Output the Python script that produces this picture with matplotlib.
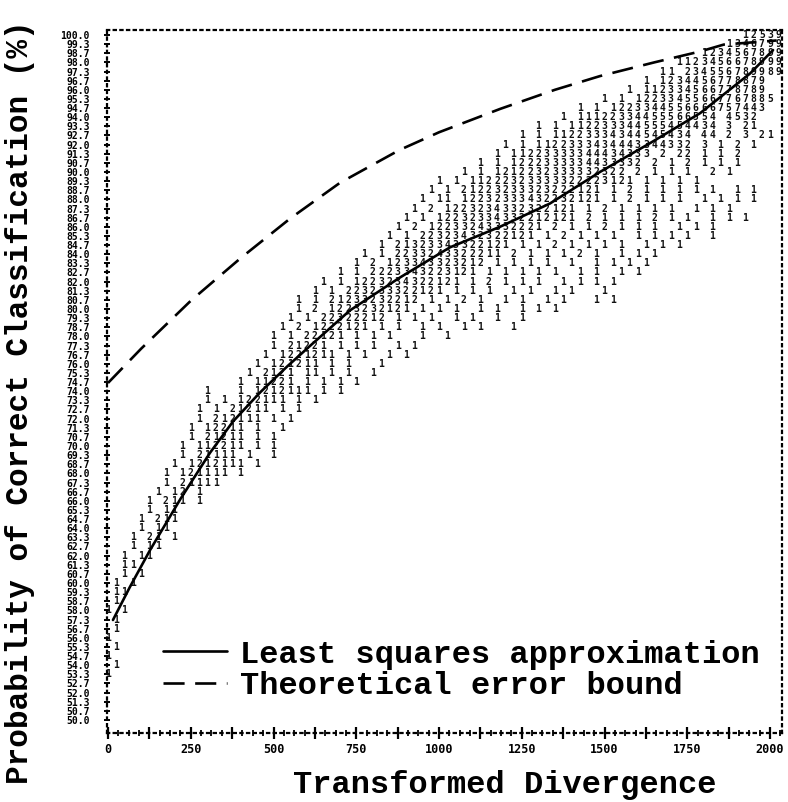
import matplotlib
matplotlib.use("Agg")
import matplotlib.pyplot as plt
from matplotlib.ticker import FixedLocator, FixedFormatter

# ---------------- data ----------------
# least squares approximation
ls_td = [15, 66, 127, 218, 308, 378, 459, 541, 610, 731, 882, 1033, 1184, 1335, 1486, 1637, 1789, 1940, 2009]
ls_pc = [57.3, 59.7, 62.4, 66.1, 69.5, 71.8, 73.9, 75.8, 77.3, 79.9, 82.3, 84.5, 86.0, 87.7, 90.0, 92.1, 94.3, 97.2, 98.9]

# theoretical error bound
tb_td = [0, 100, 250, 400, 550, 700, 880, 1000, 1184, 1350, 1486, 1650, 1789, 1860, 2020]
tb_pc = [74.6, 77.1, 80.6, 83.7, 86.6, 89.2, 91.6, 92.9, 94.6, 96.0, 97.0, 98.0, 98.8, 99.3, 99.6]

# line-printer grid: column step (TD units) and row step (% units)
col_step = 25.0
row_step = 2.0 / 3.0
top_pc = 100.0
n_rows = 76

# printer plot counts: (row, first column, characters)
cloud_rows = [
    (0, 77, "12539"),
    (1, 75, "1346799"),
    (2, 72, "1234567899"),
    (3, 69, "1123456678999"),
    (4, 67, "11 234556789989"),
    (5, 65, "1 1234456778879"),
    (6, 63, "1 112334566778789"),
    (7, 60, "1 1 12233455667767885"),
    (8, 57, "1 1 1223344556666757443"),
    (9, 55, "1 11122334455566554 4532"),
    (10, 52, "1 1 112233344555454434 3 21"),
    (11, 50, "1 1 11223334344545434 44 2 3 21"),
    (12, 48, "1 1 1122333434443344332 3 1 2 1"),
    (13, 47, "1 11223333344434333 2 22 1 1 2"),
    (14, 45, "1 1 1222333334433332 2 1 2 1 1 1"),
    (15, 43, "1 1 1212232333332322 2 1 1 1  2 1"),
    (16, 40, "1 1 11222323333322223121 1 1 1 1"),
    (17, 39, "1 1 21223233323222121 1 2 1 1 1 1 1  1 1"),
    (18, 38, "1 11 12232333432232121 1 2 1 1 1  1 1 1 1"),
    (19, 37, "1 2 1223234332322121 1 2 1 1 1 1  1 1 1"),
    (20, 36, "1 1 12232334332212121 2 1 1 1 2 1 1  1 1 1"),
    (21, 35, "1 2 12233243332221 2 1 1 2 1 1 1  1 1 1"),
    (22, 34, "1 1 22323432322121 1 2 1 1 1  1 1 1 1  1"),
    (23, 33, "1 21323343322121 1 1 2 1 1 1 1  1 1 1"),
    (24, 31, "1 1 2233243322211 2 1 1 1 2 1  1 1 1"),
    (25, 30, "1 2 123343323212 1 1 1 1  1  1 1 1 1"),
    (26, 28, "1 1 2223343223121 1 1 1 1 1  1 1  1 1"),
    (27, 26, "1 1 1223234322121 1 2 1 1 1  1 1 1 1"),
    (28, 25, "1 1 223233322121 1 1 1  1 1  1 1   1"),
    (29, 23, "1 1 21233232212 1 1 2 1  1 1  1 1   1 1"),
    (30, 23, "1 2 1223232121 1 1 1  1 1  1 1 1"),
    (31, 22, "1 1 22322212 1 1 1  1 1  1  1"),
    (32, 21, "1 2 1222121 1 1  1 1  1 1   1"),
    (33, 20, "1 1 22121 1 1 1   1  1"),
    (34, 20, "1 21221 1 1 1  1 1"),
    (35, 19, "1 1221211 1 1  1 1"),
    (36, 18, "1 121211 1 1   1"),
    (37, 17, "1 2121 11 1 1  1"),
    (38, 16, "1 11221 1 1 1 1"),
    (39, 12, "1   1 1212111 1 1"),
    (40, 12, "1 1 122111 1 1"),
    (41, 11, "1 1 21211 1 1"),
    (42, 11, "1 212111 1 1"),
    (43, 10, "1 12211 1  1"),
    (44, 10, "1 21211 1 1"),
    (45, 9, "1 112211 1 1"),
    (46, 9, "1 21111 1  1"),
    (47, 8, "1 1212111 1"),
    (48, 7, "1 121111 1"),
    (49, 7, "1 21111"),
    (50, 6, "1 12 1"),
    (51, 5, "1 211 1"),
    (52, 5, "1 11"),
    (53, 4, "1 211"),
    (54, 4, "1 11"),
    (55, 3, "1 21 1"),
    (56, 3, "1 11"),
    (57, 2, "1 11"),
    (58, 2, "11"),
    (59, 2, "1 1"),
    (60, 1, "1 1"),
    (61, 1, "11"),
    (62, 1, "1"),
    (63, 0, "1 1"),
    (64, 1, "1"),
    (65, 1, "1"),
    (66, 0, "1"),
    (67, 1, "1"),
    (68, 0, "1"),
    (69, 1, "1"),
    (70, 0, "1"),
]
max_col = 81

x_major = [0, 125, 250, 375, 500, 625, 750, 875, 1000, 1125, 1250, 1375,
           1500, 1625, 1750, 1875, 2000]
x_major_labels = ["0", "", "250", "", "500", "", "750", "", "1000", "", "1250", "",
                  "1500", "", "1750", "", "2000"]

legend_labels = ["Least squares approximation", "Theoretical error bound"]
xlabel = "Transformed Divergence"
ylabel = "Probability of Correct Classification (%)"

# ---------------- figure ----------------
W, H = 788, 802
fig = plt.figure(figsize=(W / 100, H / 100), dpi=100)
ax = fig.add_axes([107 / W, 1 - 733 / H, (782 - 107) / W, (733 - 30) / H])
ax.set_xlim(-3, 2036)
ax.set_ylim(100 - (733 - 35) / 13.7, 100 + 5 / 13.7)

mono = "DejaVu Sans Mono"
for r, c0, s in cloud_rows:
    pc = top_pc - r * row_step
    for i, ch in enumerate(s):
        c = c0 + i
        if ch == " " or c > max_col:
            continue
        ax.text(c * col_step, pc, ch, ha="center", va="center", fontsize=7,
                family=mono, weight="bold", color="#111111")

ax.plot(ls_td, ls_pc, color="black", lw=1.9, solid_capstyle="round",
        label=legend_labels[0], zorder=5)
ax.plot(tb_td, tb_pc, color="black", lw=1.9, linestyle=(0, (8, 4)),
        label=legend_labels[1], zorder=5)

# frame in printer style
for side in ["top", "bottom", "left", "right"]:
    ax.spines[side].set_linestyle((0, (1, 2)))
    ax.spines[side].set_linewidth(1.6)

row_vals = [top_pc - r * row_step for r in range(n_rows)]
ax.yaxis.set_major_locator(FixedLocator(row_vals))
ax.yaxis.set_major_formatter(FixedFormatter(["%.1f" % v for v in row_vals]))
ax.tick_params(axis="y", direction="inout", length=5, width=1.4, pad=10,
               labelsize=7)
for lab in ax.get_yticklabels():
    lab.set_family(mono)
    lab.set_weight("bold")

ax.xaxis.set_major_locator(FixedLocator(x_major))
ax.xaxis.set_major_formatter(FixedFormatter(x_major_labels))
ax.xaxis.set_minor_locator(FixedLocator([i * 31.25 for i in range(66)]))
ax.tick_params(axis="x", which="major", direction="inout", length=8, width=1.6,
               pad=3, labelsize=8.5)
ax.tick_params(axis="x", which="minor", direction="inout", length=4, width=1.3)
for lab in ax.get_xticklabels():
    lab.set_family(mono)
    lab.set_weight("bold")

fig.text(505 / W, 1 - 785 / H, xlabel, ha="center", va="center",
         fontsize=23, family="Liberation Mono", weight="bold")
fig.text(20 / W, 1 - 402 / H, ylabel, ha="center", va="center", rotation=90,
         fontsize=22.4, family="Liberation Mono", weight="bold")

leg = ax.legend(loc="upper left", bbox_to_anchor=(0.083, 0.133), frameon=False,
                prop={"family": "Liberation Mono", "size": 23, "weight": "bold"},
                handlelength=2.0, handletextpad=0.4, labelspacing=0.05,
                borderpad=0, borderaxespad=0)

fig.savefig("out.png", dpi=100)
